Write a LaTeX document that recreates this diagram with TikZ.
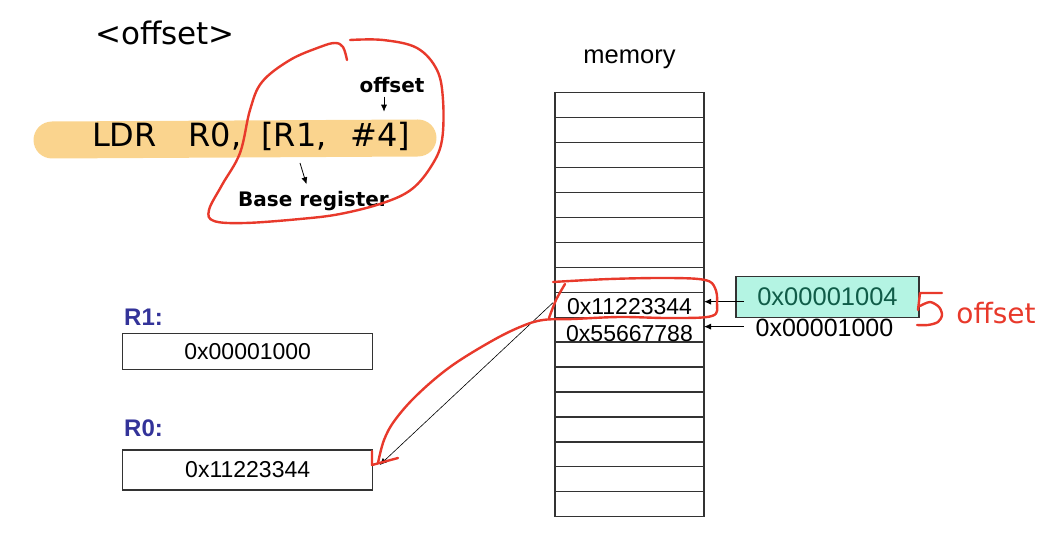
\documentclass[tikz,border=0pt]{standalone}
\usepackage{fontspec}
\setmainfont{Liberation Sans}
\newfontfamily\verdfont{DejaVu Sans}
\usetikzlibrary{positioning,arrows.meta}
\definecolor{Marker}{HTML}{FAD48E}
\definecolor{RegBlue}{HTML}{333399}
\definecolor{Mint}{HTML}{B4F4E3}
\definecolor{MintText}{HTML}{105C48}
\definecolor{Pen}{HTML}{E8392B}
\definecolor{Edge}{HTML}{333333}

\begin{document}
\begin{tikzpicture}[
  x=1pt, y=-1pt,
  every node/.style={inner sep=0pt, outer sep=0pt},
  cellbox/.style={draw=Edge, line width=1.3pt, minimum width=149pt, minimum height=24.94pt, anchor=north west},
  regbox/.style={draw=Edge, line width=1.3pt, minimum width=250pt, font=\fontsize{23}{26}\selectfont},
  reglabel/.style={font=\fontsize{24}{26}\selectfont\bfseries, text=RegBlue},
  hexval/.style={font=\fontsize{23}{26}\selectfont},
  ptrbox/.style={draw=Edge, line width=1.3pt, fill=Mint, minimum width=183pt, minimum height=41pt, text=MintText, font=\fontsize{25.5}{28}\selectfont},
  note/.style={font=\verdfont\fontsize{20}{22}\selectfont\bfseries},
  arr/.style={-{Latex[length=7pt,width=6pt]}, line width=0.8pt},
  pen/.style={Pen, line width=2.4pt, line cap=round, line join=round}
]
\useasboundingbox (0,0) rectangle (1040,534);

% Instruction
\node[font=\verdfont\fontsize{31}{33}\selectfont, anchor=base] (heading) at (165,45) {<offset>};
\draw[Marker, line width=37pt, line cap=round] (52,140) -- (418,138);
\node[font=\verdfont\fontsize{32}{34}\selectfont, anchor=base west] (ldr) at (92,146.7)
  {LDR\hspace{32pt}R0,\hspace{20pt}[R1,\hspace{24pt}\#4]};
\node[note] (offnote) at (392,85) {offset};
\node[note, anchor=base] (basenote) at (313.5,206.5) {Base register};
\coordinate (r1mark) at (300,163);

% Memory
\node[font=\fontsize{25.5}{28}\selectfont, anchor=base] (memlabel) at (629.5,63.3) {memory};
\foreach \i in {1,...,17}
  \node[cellbox] (cell\i) at (555,{92.7+24.94*(\i-1)}) {};
\node[hexval] (val9) at ([yshift=-1.5pt]cell9) {0x11223344};
\node[hexval] (val10) at ([yshift=-4pt]cell10) {0x55667788};

% Address
\node[ptrbox] (ptr) at (827.5,297) {0x00001004};
\node[font=\fontsize{25}{28}\selectfont] (baseaddr) at (824.5,328) {0x00001000};
\coordinate (in9) at ([yshift=3pt]cell9.east);
\coordinate (in10) at ([yshift=3pt]cell10.east);

% Registers
\node[regbox, minimum height=36pt] (rone) at (247.7,351.3) {0x00001000};
\node[reglabel, above=8pt of rone.north west, anchor=south west, xshift=1.5pt] (ronelbl) {R1:};
\node[regbox, minimum height=40pt] (rzero) at (247.7,470) {0x11223344};
\node[reglabel, above=13pt of rzero.north west, anchor=south west, xshift=1.5pt] (rzerolbl) {R0:};

% Arrows
\draw[arr] ([xshift=-8pt,yshift=-4pt]offnote.south) -- ++(0,15);
\draw[arr] (r1mark) -- ([xshift=-7pt,yshift=7pt]basenote.north);
\draw[arr] ([xshift=8pt]ptr.west |- in9) -- (in9);
\draw[arr] ([xshift=-12pt]baseaddr.west |- in10) -- (in10);
\draw[arr, line width=0.6pt] ([xshift=-2pt,yshift=2pt]cell9.west) -- ([xshift=7pt,yshift=5pt]rzero.east);

% Pen marks
\draw[pen] plot[smooth, tension=0.6] coordinates {(347,60) (343,47) (335,43) (320,47) (290,60) (262,82) (250,110) (240,153) (222,185) (209,210) (214,221) (245,223) (300,219) (340,214) (383,203) (412,189) (432,165) (442,140) (443,100) (437,70) (417,48) (383,40) (350,40)};
\draw[pen] plot[smooth, tension=0.6] coordinates {(553,282) (610,279) (670,278) (705,280) (715,288) (717,303) (712,316) (670,318) (620,317) (573,319) (543,320) (520,327) (490,342) (450,367) (417,395) (395,420) (384,440) (378,463)};
\draw[pen] plot[smooth] coordinates {(565,284) (556,300) (549,318)};
\draw[pen] (372,451) -- (372,465) -- (398,458);
\draw[pen] (942,293) -- (920,293) -- (918,310);
\draw[pen] plot[smooth] coordinates {(920,306) (930,302) (939,307) (942,315) (938,322) (928,325) (917,325)};
\node[font=\verdfont\fontsize{28}{30}\selectfont, text=Pen] (pennote) at (996,313) {offset};
\end{tikzpicture}
\end{document}
